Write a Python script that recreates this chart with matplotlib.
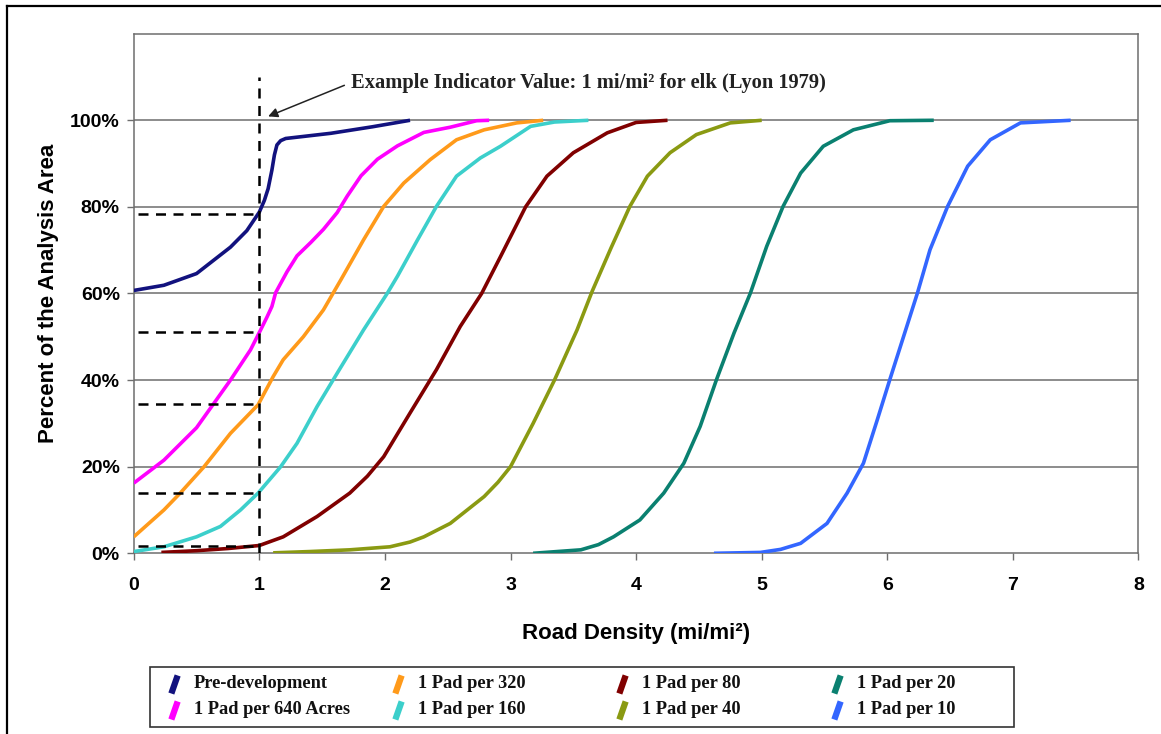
import matplotlib
matplotlib.use('Agg')
import matplotlib.pyplot as plt
from matplotlib.lines import Line2D
from matplotlib.patches import Rectangle
from matplotlib.ticker import FixedLocator, FuncFormatter

plt.rc('font', family='Liberation Sans')

# road density (mi/mi2) vs cumulative percent of analysis area
pre_x = [0, 0.24, 0.5, 0.77, 0.9, 1.0, 1.04, 1.07, 1.1, 1.12, 1.14, 1.17, 1.21, 1.3, 1.57, 1.9, 2.2]
pre_y = [60.7, 61.9, 64.6, 70.7, 74.5, 78.8, 81.5, 84.2, 88.5, 92.0, 94.3, 95.3, 95.8, 96.1, 97.0, 98.5, 100]

p640_x = [0, 0.24, 0.5, 0.77, 0.93, 1.0, 1.06, 1.1, 1.13, 1.22, 1.3, 1.41, 1.51, 1.62, 1.7, 1.81,
          1.94, 2.1, 2.31, 2.52, 2.73, 2.83]
p640_y = [16.2, 21.5, 29, 40, 47, 51, 54.5, 57, 60.2, 65, 68.7, 71.8, 74.8, 78.7, 82.5, 87.2,
          91, 94.1, 97.2, 98.4, 99.9, 100]

p320_x = [0, 0.24, 0.37, 0.56, 0.77, 0.99, 1.11, 1.19, 1.35, 1.51, 1.65, 1.83, 1.99, 2.15, 2.36,
          2.57, 2.79, 3.05, 3.26]
p320_y = [3.8, 10, 13.9, 20, 27.7, 34.3, 40.8, 44.7, 50, 56.2, 63.2, 72.4, 80.1, 85.5, 90.9,
          95.5, 97.8, 99.4, 100]

p160_x = [0, 0.24, 0.5, 0.69, 0.85, 0.99, 1.17, 1.3, 1.46, 1.62, 1.83, 2.02, 2.1, 2.26, 2.41,
          2.57, 2.76, 2.92, 3.16, 3.35, 3.62]
p160_y = [0.4, 1.5, 3.8, 6.2, 10, 13.9, 20, 25.4, 33.9, 41.6, 51.6, 60.1, 64, 72.4, 80.1,
          87.1, 91.3, 94, 98.6, 99.6, 100]

p80_x = [0.22, 0.5, 0.75, 1.0, 1.19, 1.46, 1.72, 1.86, 1.99, 2.2, 2.41, 2.6, 2.77, 2.92, 3.12,
         3.29, 3.5, 3.77, 4.0, 4.25]
p80_y = [0.2, 0.6, 1.1, 1.8, 3.8, 8.5, 13.9, 17.8, 22.3, 32.4, 42.4, 52.4, 60, 68.5, 80,
         87.1, 92.5, 97.1, 99.5, 100]

p40_x = [1.11, 1.4, 1.72, 2.04, 2.2, 2.31, 2.52, 2.79, 2.9, 3.0, 3.18, 3.35, 3.53, 3.65, 3.8,
         3.95, 4.09, 4.27, 4.48, 4.75, 5.0]
p40_y = [0.1, 0.4, 0.8, 1.5, 2.6, 3.8, 6.9, 13.1, 16.4, 20, 30, 40, 51.6, 60.5, 70.5,
         80.1, 87.1, 92.5, 96.7, 99.4, 100]

p20_x = [3.18, 3.56, 3.7, 3.82, 4.03, 4.22, 4.38, 4.51, 4.64, 4.78, 4.91, 5.04, 5.17, 5.31,
         5.49, 5.73, 6.02, 6.37]
p20_y = [0, 0.8, 2.0, 3.8, 7.7, 13.9, 20.8, 29.3, 40.1, 50.9, 60.1, 70.9, 80.1, 87.8,
         94, 97.8, 99.9, 100]

p10_x = [4.62, 4.99, 5.15, 5.31, 5.52, 5.68, 5.81, 5.92, 6.02, 6.13, 6.24, 6.34, 6.48, 6.64,
         6.82, 7.06, 7.46]
p10_y = [0, 0.2, 0.9, 2.3, 6.9, 13.9, 20.8, 30.8, 40.1, 50.1, 60.1, 70.1, 80.1, 89.4,
         95.5, 99.4, 100]

indicator_x = 1.0
indicator_y = [78.3, 51.2, 34.5, 14.0, 1.6]

x_ticks = [0, 1, 2, 3, 4, 5, 6, 7, 8]
y_ticks = [0, 20, 40, 60, 80, 100]

series = [
    ('Pre-development', pre_x, pre_y, '#12127E'),
    ('1 Pad per 640 Acres', p640_x, p640_y, '#FF00FF'),
    ('1 Pad per 320', p320_x, p320_y, '#FF9A1A'),
    ('1 Pad per 160', p160_x, p160_y, '#3CCFCB'),
    ('1 Pad per 80', p80_x, p80_y, '#800000'),
    ('1 Pad per 40', p40_x, p40_y, '#8A9A12'),
    ('1 Pad per 20', p20_x, p20_y, '#0A8070'),
    ('1 Pad per 10', p10_x, p10_y, '#3366FF'),
]

W, H = 1161, 734
fig = plt.figure(figsize=(W / 100, H / 100), dpi=100)
ax = fig.add_axes([0.1152, 0.2462, 0.8654, 0.7079])

for y in y_ticks[1:]:
    ax.axhline(y, color='#6e6e6e', lw=1.1, zorder=1)

for name, xs, ys, c in series:
    ax.plot(xs, ys, color=c, lw=2.6, solid_capstyle='butt', solid_joinstyle='round', zorder=3)

# indicator dashed lines
ax.plot([indicator_x, indicator_x], [0, 110], color='black', lw=1.8, ls=(0, (4, 3)), zorder=4)
for v in indicator_y:
    ax.plot([0.03, indicator_x], [v, v], color='black', lw=1.8, ls=(0, (4, 3)), zorder=4)

ax.annotate('Example Indicator Value: 1 mi/mi\u00b2 for elk (Lyon 1979)',
            xy=(1.07, 100.9), xytext=(1.73, 108.7),
            fontsize=14.8, fontweight='bold', family='Liberation Serif', color='#222222',
            va='center', ha='left',
            arrowprops=dict(arrowstyle='-|>', color='#222222', lw=1.1, relpos=(0, 0.5),
                            mutation_scale=14, shrinkA=3, shrinkB=0))

ax.set_xlim(0, 8)
ax.set_ylim(0, 120)
ax.xaxis.set_major_locator(FixedLocator(x_ticks))
ax.yaxis.set_major_locator(FixedLocator(y_ticks))
ax.yaxis.set_major_formatter(FuncFormatter(lambda v, p: '%d%%' % v))
ax.tick_params(axis='both', direction='out', length=5, width=1, color='#6e6e6e',
               labelsize=14)
ax.tick_params(axis='x', pad=12)
ax.tick_params(axis='y', pad=5)
for lab in ax.get_xticklabels() + ax.get_yticklabels():
    lab.set_fontweight('bold')
for s in ax.spines.values():
    s.set_color('#6e6e6e')
    s.set_linewidth(1.1)

ax.set_xlabel('Road Density (mi/mi\u00b2)', fontsize=16, fontweight='bold', labelpad=21)
ax.set_ylabel('Percent of the Analysis Area', fontsize=16, fontweight='bold', labelpad=8)

# Excel style legend box: fixed columns, slanted keys
def fx(px):
    return px / W

def fy(py):
    return 1 - py / H

fig.add_artist(Rectangle((fx(150), fy(727)), fx(864), 60 / H, transform=fig.transFigure,
                         facecolor='white', edgecolor='#333333', lw=1.2))
col_px = [194, 418, 642, 857]
row_py = [684, 710]
key = [(-0.35, -1), (0.35, 1)]
for i, (name, _, _, c) in enumerate(series):
    col, row = i // 2, i % 2
    fig.add_artist(Line2D([fx(col_px[col] - 20)], [fy(row_py[row])], transform=fig.transFigure,
                          ls='none', marker=key, markersize=13, markeredgewidth=4.5,
                          markeredgecolor=c))
    fig.text(fx(col_px[col]), fy(row_py[row]), name, family='Liberation Serif',
             fontweight='bold', fontsize=13.2, va='center', ha='left', color='#111111')

# outer frame (top and left edges)
fig.add_artist(Line2D([0.006, 1], [0.9925, 0.9925], color='black', lw=1.6))
fig.add_artist(Line2D([0.006, 0.006], [0, 0.9925], color='black', lw=1.6))

fig.savefig('out.png', dpi=100)
